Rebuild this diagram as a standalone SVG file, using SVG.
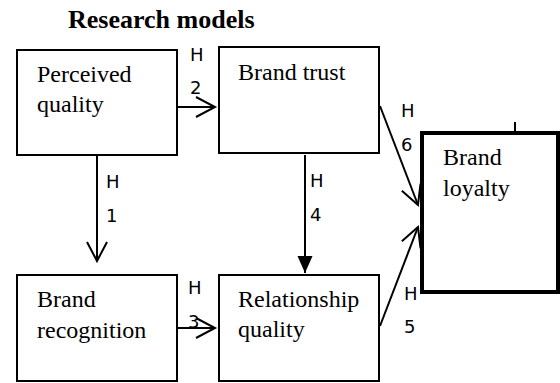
<svg xmlns="http://www.w3.org/2000/svg" width="560" height="383" viewBox="0 0 560 383">
<style>
.box{fill:#fff;stroke:#000;stroke-width:2}
.thick{fill:#fff;stroke:#000;stroke-width:4}
.t{font-family:"Liberation Serif","Times New Roman",serif;font-size:24px;fill:#000}
.title{font-family:"Liberation Serif","Times New Roman",serif;font-size:26px;font-weight:bold;fill:#000}
.lbl{font-family:"DejaVu Sans",sans-serif;font-size:18px;fill:#000}
.c{stroke:#000;stroke-width:2;fill:none}
</style>
<defs>
<marker id="open" markerUnits="userSpaceOnUse" viewBox="-2 -2 24 24" markerWidth="24" markerHeight="24" refX="19" refY="10" orient="auto">
<path d="M0,0 L19,10 L0,20" fill="none" stroke="#000" stroke-width="2"/>
</marker>
<marker id="fill" markerUnits="userSpaceOnUse" viewBox="0 0 17 16" markerWidth="17" markerHeight="16" refX="17" refY="8" orient="auto">
<path d="M0,0.5 L17,8 L0,15.5 Z" fill="#000"/>
</marker>
</defs>
<text class="title" x="68" y="28">Research models</text>
<g id="connectors">
<line class="c" x1="178" y1="107" x2="215" y2="107" marker-end="url(#open)"/>
<line class="c" x1="97" y1="156" x2="97" y2="261" marker-end="url(#open)"/>
<line class="c" x1="178" y1="328" x2="215" y2="328" marker-end="url(#open)"/>
<line class="c" x1="305" y1="155" x2="305" y2="273" marker-end="url(#fill)"/>
<line class="c" x1="380" y1="106" x2="418" y2="205" marker-end="url(#open)"/>
<line class="c" x1="380" y1="326" x2="418" y2="227" marker-end="url(#open)"/>
<line class="c" x1="515" y1="122" x2="515" y2="133"/>
</g>
<g id="perceived-quality">
<rect class="box" x="17" y="50" width="160" height="105"/>
<text class="t" x="37" y="82">Perceived</text>
<text class="t" x="37" y="112">quality</text>
</g>
<g id="brand-trust">
<rect class="box" x="219" y="47" width="160" height="106"/>
<text class="t" x="238" y="80">Brand trust</text>
</g>
<g id="brand-recognition">
<rect class="box" x="17" y="275" width="160" height="106"/>
<text class="t" x="37" y="307">Brand</text>
<text class="t" x="37" y="338">recognition</text>
</g>
<g id="relationship-quality">
<rect class="box" x="219" y="275" width="160" height="106"/>
<text class="t" x="238" y="307">Relationship</text>
<text class="t" x="238" y="337">quality</text>
</g>
<g id="brand-loyalty">
<rect class="thick" x="422" y="133" width="136" height="159"/>
<text class="t" x="443" y="165">Brand</text>
<text class="t" x="443" y="196">loyalty</text>
</g>
<g id="labels">
<text class="lbl" x="190" y="61">H</text>
<text class="lbl" x="190" y="94">2</text>
<text class="lbl" x="106" y="188">H</text>
<text class="lbl" x="106" y="222">1</text>
<text class="lbl" x="188" y="294">H</text>
<text class="lbl" x="188" y="328">3</text>
<text class="lbl" x="310" y="187">H</text>
<text class="lbl" x="310" y="221">4</text>
<text class="lbl" x="404" y="300">H</text>
<text class="lbl" x="404" y="333">5</text>
<text class="lbl" x="401" y="117">H</text>
<text class="lbl" x="401" y="151">6</text>
</g>
</svg>
